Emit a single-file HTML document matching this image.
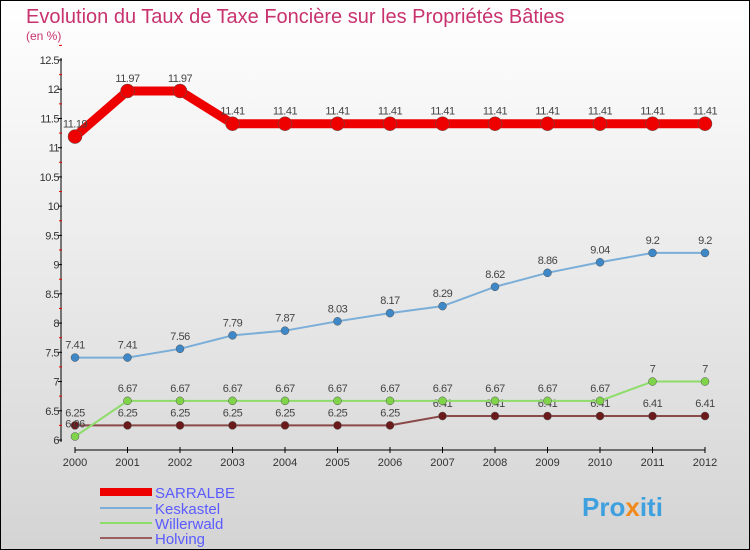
<!DOCTYPE html>
<html><head><meta charset="utf-8"><style>
body{margin:0;}
#c{width:750px;height:550px;position:relative;overflow:hidden;font-family:"Liberation Sans",sans-serif;}
</style></head><body>
<div id="c">
<svg id="s" width="750" height="550" xmlns="http://www.w3.org/2000/svg">
<defs><linearGradient id="bg" x1="0" y1="0" x2="0" y2="1"><stop offset="0" stop-color="#ffffff"/><stop offset="1" stop-color="#d4d4d4"/></linearGradient></defs>
<rect x="0.5" y="0.5" width="749" height="549" fill="url(#bg)" stroke="#000"/>
<text x="26" y="23" font-size="20" fill="#c8326e">Evolution du Taux de Taxe Foncière sur les Propriétés Bâties</text>
<text x="26" y="40" font-size="12" fill="#c8326e">(en %)</text>
<g id="axes"></g><g id="series"></g>
<g>
<rect x="100" y="488" width="52" height="8" fill="#e00"/>
<text x="155" y="498" font-size="15" fill="#5b5bff">SARRALBE</text>
<rect x="100" y="507" width="52" height="2" fill="#7aaed8"/>
<text x="155" y="514" font-size="15" fill="#5b5bff">Keskastel</text>
<rect x="100" y="522" width="52" height="2" fill="#8edc6a"/>
<text x="155" y="529" font-size="15" fill="#5b5bff">Willerwald</text>
<rect x="100" y="537" width="52" height="2" fill="#9a6060"/>
<text x="155" y="544" font-size="15" fill="#5b5bff">Holving</text>
</g>
<text x="582" y="516" font-size="26" font-weight="bold" fill="#3fa0e0">Pro<tspan fill="#f08a1c">x</tspan>iti</text>
</svg></div>
<script>
const years=[2000,2001,2002,2003,2004,2005,2006,2007,2008,2009,2010,2011,2012];
const sarralbe=[11.19,11.97,11.97,11.41,11.41,11.41,11.41,11.41,11.41,11.41,11.41,11.41,11.41];
const keskastel=[7.41,7.41,7.56,7.79,7.87,8.03,8.17,8.29,8.62,8.86,9.04,9.2,9.2];
const willerwald=[6.06,6.67,6.67,6.67,6.67,6.67,6.67,6.67,6.67,6.67,6.67,7,7];
const holving=[6.25,6.25,6.25,6.25,6.25,6.25,6.25,6.41,6.41,6.41,6.41,6.41,6.41];
const yTicks=[6,6.5,7,7.5,8,8.5,9,9.5,10,10.5,11,11.5,12,12.5];
const NS="http://www.w3.org/2000/svg";
const X=i=>75+i*52.5;
const Y=v=>440-(v-6)*58.46;
function mk(t,a,p){const e=document.createElementNS(NS,t);for(const k in a)e.setAttribute(k,a[k]);p.appendChild(e);return e;}
const ax=document.getElementById('axes'),sg=document.getElementById('series');
const ya=mk('line',{x1:61,y1:58,x2:61,y2:442,stroke:'#000','stroke-width':1},ax);

const xa=mk('line',{x1:75,y1:450,x2:705,y2:450,stroke:'#000','stroke-width':1},ax);

yTicks.forEach(v=>{const y=Y(v);
 mk('line',{x1:58,y1:y,x2:62,y2:y,stroke:'#000'},ax);
 mk('line',{x1:59,y1:Y(v+0.25),x2:62,y2:Y(v+0.25),stroke:'#e00'},ax);
 const t=mk('text',{x:59,y:y+4,'font-size':11,'text-anchor':'end',fill:'#333','letter-spacing':'-0.5'},ax);t.textContent=v;
 });
years.forEach((yr,i)=>{
 mk('line',{x1:X(i),y1:447,x2:X(i),y2:453,stroke:'#000'},ax);
 const t=mk('text',{x:X(i),y:466,'font-size':11,'text-anchor':'middle',fill:'#333'},ax);t.textContent=yr;
 });
function series(name,data,color,w,r,dot){
 const g=mk('g',{},sg);
 const pl=mk('polyline',{points:data.map((v,i)=>X(i)+','+Y(v)).join(' '),fill:'none',stroke:color,'stroke-width':w},g);
 
 data.forEach((v,i)=>{const c=mk('circle',{cx:X(i),cy:Y(v),r:r,fill:dot,stroke:'#555','stroke-width':0.5},g);
  
  const t=mk('text',{x:X(i),y:Y(v)-9,'font-size':11,'text-anchor':'middle',fill:'#444','letter-spacing':'-0.5'},g);t.textContent=v;
  });
}
series('holving',holving,'#8a4a4a',2,4,'#6a1a1a');
series('willerwald',willerwald,'#8edc6a',2,4,'#7fd44a');
series('keskastel',keskastel,'#7aaed8',2,4,'#3e88c8');
series('sarralbe',sarralbe,'#e00',9,7,'#e00');
</script>
</body></html>
